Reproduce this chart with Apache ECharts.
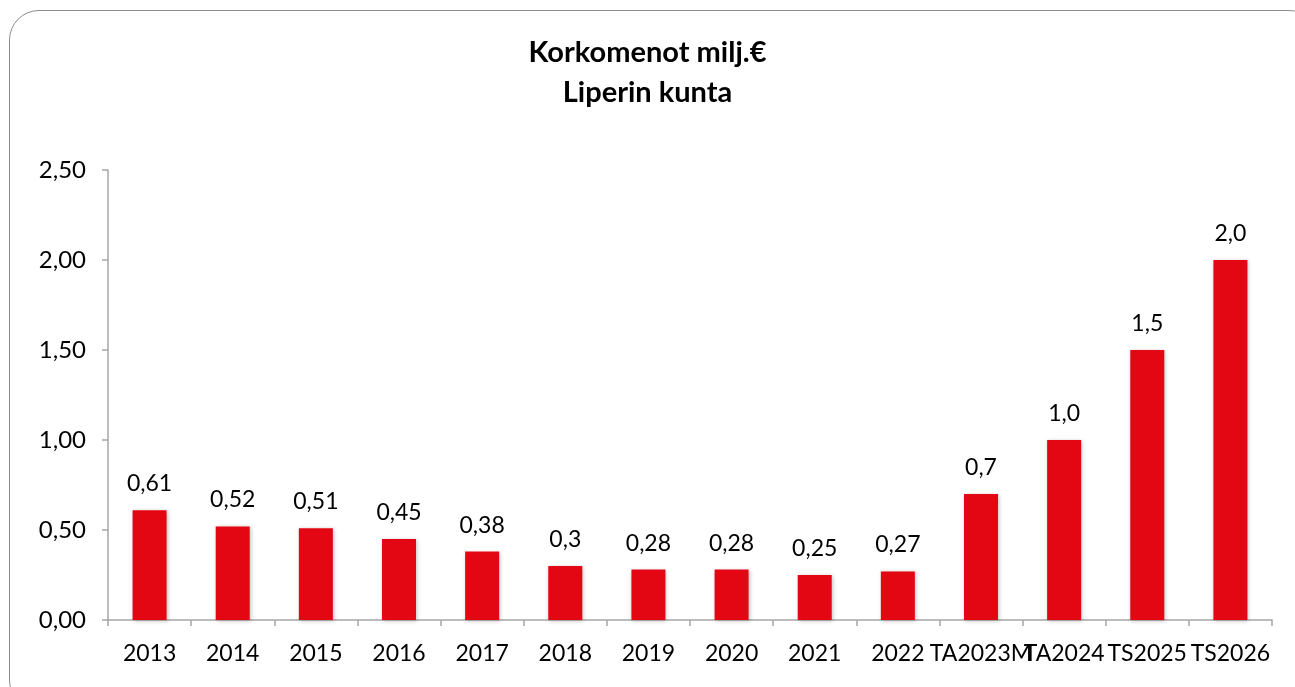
<!DOCTYPE html>
<html>
<head>
<meta charset="utf-8">
<script src="https://cdn.jsdelivr.net/npm/echarts@6/dist/echarts.min.js"></script>
<style>
    html, body { margin: 0; padding: 0; background: #fff; }
    #frame {
        position: absolute;
        left: 9px;
        top: 10px;
        width: 1310px;
        height: 700px;
        border: 1.5px solid #8c8c8c;
        border-radius: 30px;
        box-sizing: border-box;
    }
    #chart { position: absolute; left: 0; top: 0; width: 1295px; height: 687px; }
</style>
</head>
<body>
<div id="frame"></div>
<div id="chart"></div>
<script>
const categories = ['2013', '2014', '2015', '2016', '2017', '2018', '2019', '2020', '2021', '2022', 'TA2023M', 'TA2024', 'TS2025', 'TS2026'];
const values = [0.61, 0.52, 0.51, 0.45, 0.38, 0.3, 0.28, 0.28, 0.25, 0.27, 0.7, 1.0, 1.5, 2.0];
const valueLabels = ['0,61', '0,52', '0,51', '0,45', '0,38', '0,3', '0,28', '0,28', '0,25', '0,27', '0,7', '1,0', '1,5', '2,0'];

const fontFamily = 'Lato, "Noto Sans", sans-serif';
const axisColor = '#a6a6a6';

document.addEventListener('DOMContentLoaded', function() {
    const chart = echarts.init(document.getElementById('chart'));

    chart.setOption({
        animation: false,
        title: {
            text: 'Korkomenot milj.€\nLiperin kunta',
            left: 'center',
            top: 28,
            textStyle: {
                fontFamily: fontFamily,
                fontSize: 29,
                fontWeight: 'bold',
                color: '#000',
                lineHeight: 40
            }
        },
        grid: {
            left: 108,
            right: 23,
            top: 170,
            bottom: 67
        },
        xAxis: {
            type: 'category',
            data: categories,
            axisLine: { lineStyle: { color: axisColor, width: 1.5 } },
            axisTick: { show: true, length: 6, alignWithLabel: false, lineStyle: { color: axisColor, width: 1.5 } },
            axisLabel: {
                interval: 0,
                margin: 22,
                fontFamily: fontFamily,
                fontSize: 23,
                color: '#000'
            }
        },
        yAxis: {
            type: 'value',
            min: 0,
            max: 2.5,
            interval: 0.5,
            axisLine: { show: true, lineStyle: { color: axisColor, width: 1.5 } },
            axisTick: { show: true, length: 6, lineStyle: { color: axisColor, width: 1.5 } },
            splitLine: { show: false },
            axisLabel: {
                margin: 22,
                fontFamily: fontFamily,
                fontSize: 24,
                color: '#000',
                formatter: function(v) { return v.toFixed(2).replace('.', ','); }
            }
        },
        series: [{
            type: 'bar',
            data: values,
            barWidth: 34,
            itemStyle: {
                color: '#e30613',
                shadowColor: 'rgba(0,0,0,0.25)',
                shadowBlur: 4,
                shadowOffsetX: 1,
                shadowOffsetY: 1
            },
            label: {
                show: true,
                position: 'top',
                distance: 15,
                fontFamily: fontFamily,
                fontSize: 23,
                color: '#000',
                formatter: function(p) { return valueLabels[p.dataIndex]; }
            }
        }]
    });
});
</script>
</body>
</html>
